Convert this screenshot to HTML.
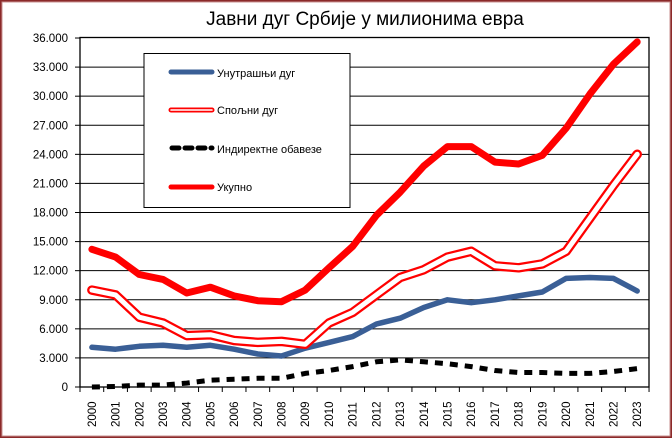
<!DOCTYPE html>
<html><head><meta charset="utf-8"><style>
html,body{margin:0;padding:0;background:#fff}
svg{display:block}
text{font-family:"Liberation Sans",sans-serif}
</style></head><body>
<svg id="c" width="672" height="438" xmlns="http://www.w3.org/2000/svg">
<rect x="1" y="1" width="670" height="436" fill="#fff" stroke="#8b2a2a" stroke-width="2"/>
<rect x="2" y="2" width="668" height="434" fill="none" stroke="#c89090" stroke-width="1"/>
<text x="365" y="25" font-size="19" text-anchor="middle" fill="#000">Јавни дуг Србије у милионима евра</text>
<g id="grid"></g>
<rect x="80" y="37.5" width="569" height="349.5" fill="none" stroke="#000" stroke-width="1.3"/>
<g id="series"></g>
<rect x="144" y="53.5" width="206" height="154" fill="#fff" stroke="#000" stroke-width="1"/>
<line x1="171" y1="72" x2="212" y2="72" stroke="#3a5f96" stroke-width="5" stroke-linecap="round"/>
<text x="217" y="77" font-size="11">Унутрашњи дуг</text>
<line x1="171" y1="110" x2="212" y2="110" stroke="#ff0000" stroke-width="5" stroke-linecap="round"/>
<line x1="171" y1="110" x2="212" y2="110" stroke="#fff" stroke-width="1.6" stroke-linecap="round"/>
<text x="217" y="114" font-size="11">Спољни дуг</text>
<line x1="172" y1="148" x2="212" y2="148" stroke="#000" stroke-width="5" stroke-dasharray="7,6" stroke-linecap="round"/>
<text x="217" y="153" font-size="11">Индиректне обавезе</text>
<line x1="171" y1="187" x2="212" y2="187" stroke="#ff0000" stroke-width="5" stroke-linecap="round"/>
<text x="217" y="191" font-size="11">Укупно</text>
</svg>
<script>
var NS="http://www.w3.org/2000/svg";
function el(p,t,a,txt){var e=document.createElementNS(NS,t);for(var k in a)e.setAttribute(k,a[k]);if(txt!=null)e.textContent=txt;p.appendChild(e);return e;}
var g=document.getElementById('grid'),s=document.getElementById('series');
function Y(v){return 387-v*9.694;}
function X(i){return 80+(i+0.5)*23.71;}
for(var k=0;k<=12;k++){var y=Y(k*3);
 if(k>0&&k<12)el(g,'line',{x1:80,x2:649,y1:y,y2:y,stroke:'#000','stroke-width':1});
 el(g,'line',{x1:75,x2:80,y1:y,y2:y,stroke:'#000','stroke-width':1});
 var lab=k==0?'0':(k*3)+'.000';
 el(g,'text',{x:68,y:y+4,'font-size':11.5,'text-anchor':'end'},lab);}
for(var i=0;i<=24;i++){var x=80+i*23.71;el(g,'line',{x1:x,x2:x,y1:387,y2:392,stroke:'#000','stroke-width':1});}
for(var i=0;i<24;i++){var x=X(i)+4;el(g,'text',{x:x,y:427,'font-size':11.5,transform:'rotate(-90 '+x+' 427)'},String(2000+i));}
var tot=[14.2,13.4,11.6,11.1,9.7,10.3,9.4,8.9,8.8,10.0,12.3,14.5,17.7,20.1,22.8,24.8,24.8,23.2,23.0,23.9,26.7,30.2,33.3,35.6];
var inn=[4.1,3.9,4.2,4.3,4.1,4.3,3.9,3.4,3.2,4.0,4.6,5.2,6.5,7.1,8.2,9.0,8.7,9.0,9.4,9.8,11.2,11.3,11.2,9.9];
var ext=[10.0,9.5,7.2,6.6,5.3,5.4,4.8,4.6,4.7,4.4,6.6,7.7,9.5,11.3,12.1,13.4,14.0,12.5,12.3,12.7,14.0,17.4,20.8,24.0];
var ind=[0,0.05,0.2,0.2,0.4,0.7,0.8,0.9,0.9,1.4,1.7,2.1,2.6,2.8,2.6,2.4,2.1,1.7,1.5,1.5,1.4,1.4,1.6,1.9];
function pts(a){return a.map(function(v,i){return X(i).toFixed(1)+','+Y(v).toFixed(1);}).join(' ');}
var base={fill:'none','stroke-linejoin':'round','stroke-linecap':'round'};
function pl(a,o){var at={points:pts(a)};for(var k in base)at[k]=base[k];for(var k in o)at[k]=o[k];el(s,'polyline',at);}
pl(ind,{stroke:'#000','stroke-width':5,'stroke-dasharray':'8,7','stroke-linecap':'butt'});
pl(inn,{stroke:'#3a5f96','stroke-width':5.5});
pl(ext,{stroke:'#ff0000','stroke-width':9.5});
pl(ext,{stroke:'#fff','stroke-width':5});
pl(tot,{stroke:'#ff0000','stroke-width':7});
</script>
</body></html>
